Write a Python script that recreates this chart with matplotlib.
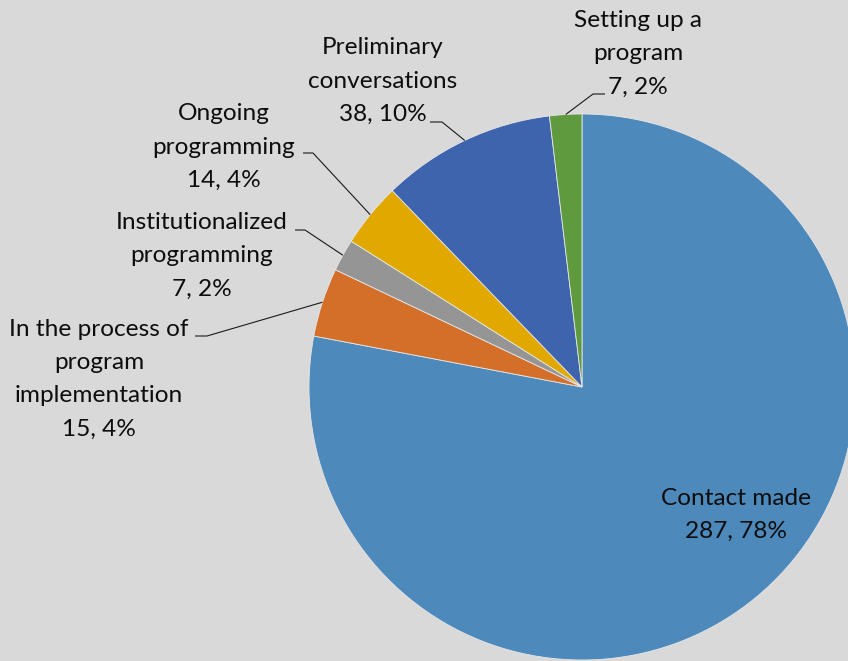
import matplotlib
matplotlib.use('Agg')
import matplotlib.pyplot as plt
import numpy as np

# Status of partner contacts
categories = ['Contact made', 'In the process of\nprogram\nimplementation',
              'Institutionalized\nprogramming', 'Ongoing\nprogramming',
              'Preliminary\nconversations', 'Setting up a\nprogram']
counts = [287, 15, 7, 14, 38, 7]
shares = ['78%', '4%', '2%', '4%', '10%', '2%']

colors = ['#4E89BC', '#D46F2A', '#959595', '#E1A900', '#3D64AD', '#5F9A3E']

W, H = 848, 661
CX, CY, R = 582, 387, 273  # pixel layout, y measured from the top

# label centre and leader elbow (label end, elbow) in pixels from the top
label_pos = [(736, 515), (99, 379), (202, 256), (224, 147), (383, 81), (638, 54)]
leaders = [None, ((195, 336), (207, 336)), ((295, 230), (305, 230)),
           ((303, 153), (313, 153)), ((430, 122), (442, 122)),
           ((605, 94), (593, 94))]


def px(x, y):
    return x, H - y


plt.rcParams['font.family'] = ['Lato', 'DejaVu Sans']

fig = plt.figure(figsize=(W / 100, H / 100), dpi=100, facecolor='#D9D9D9')
ax = fig.add_axes([0, 0, 1, 1])
ax.set_facecolor('#D9D9D9')

wedges, _ = ax.pie(counts, colors=colors, startangle=90, counterclock=False,
                   center=px(CX, CY), radius=R,
                   wedgeprops=dict(edgecolor='#E6E6E6', linewidth=0.6))
ax.set_xlim(0, W)
ax.set_ylim(0, H)
ax.set_aspect('equal')
ax.axis('off')

total = sum(counts)
cum = np.cumsum([0] + counts)
for i, (name, n, s) in enumerate(zip(categories, counts, shares)):
    lx, ly = label_pos[i]
    ax.text(*px(lx, ly), f'{name}\n{n}, {s}', ha='center', va='center',
            multialignment='center', fontsize=17.6, color='#0D0D0D',
            linespacing=1.72)
    if leaders[i] is None:
        continue
    mid = (cum[i] + cum[i + 1]) / 2
    ang = np.deg2rad(90 - mid / total * 360)
    ex, ey = px(CX, CY)
    ex, ey = ex + R * np.cos(ang), ey + R * np.sin(ang)
    (ax_, ay_), (bx, by) = leaders[i]
    xs = [px(ax_, ay_)[0], px(bx, by)[0], ex]
    ys = [px(ax_, ay_)[1], px(bx, by)[1], ey]
    ax.plot(xs, ys, color='#1A1A1A', lw=0.8, solid_capstyle='butt')

fig.savefig('out.png', dpi=100, facecolor=fig.get_facecolor())
